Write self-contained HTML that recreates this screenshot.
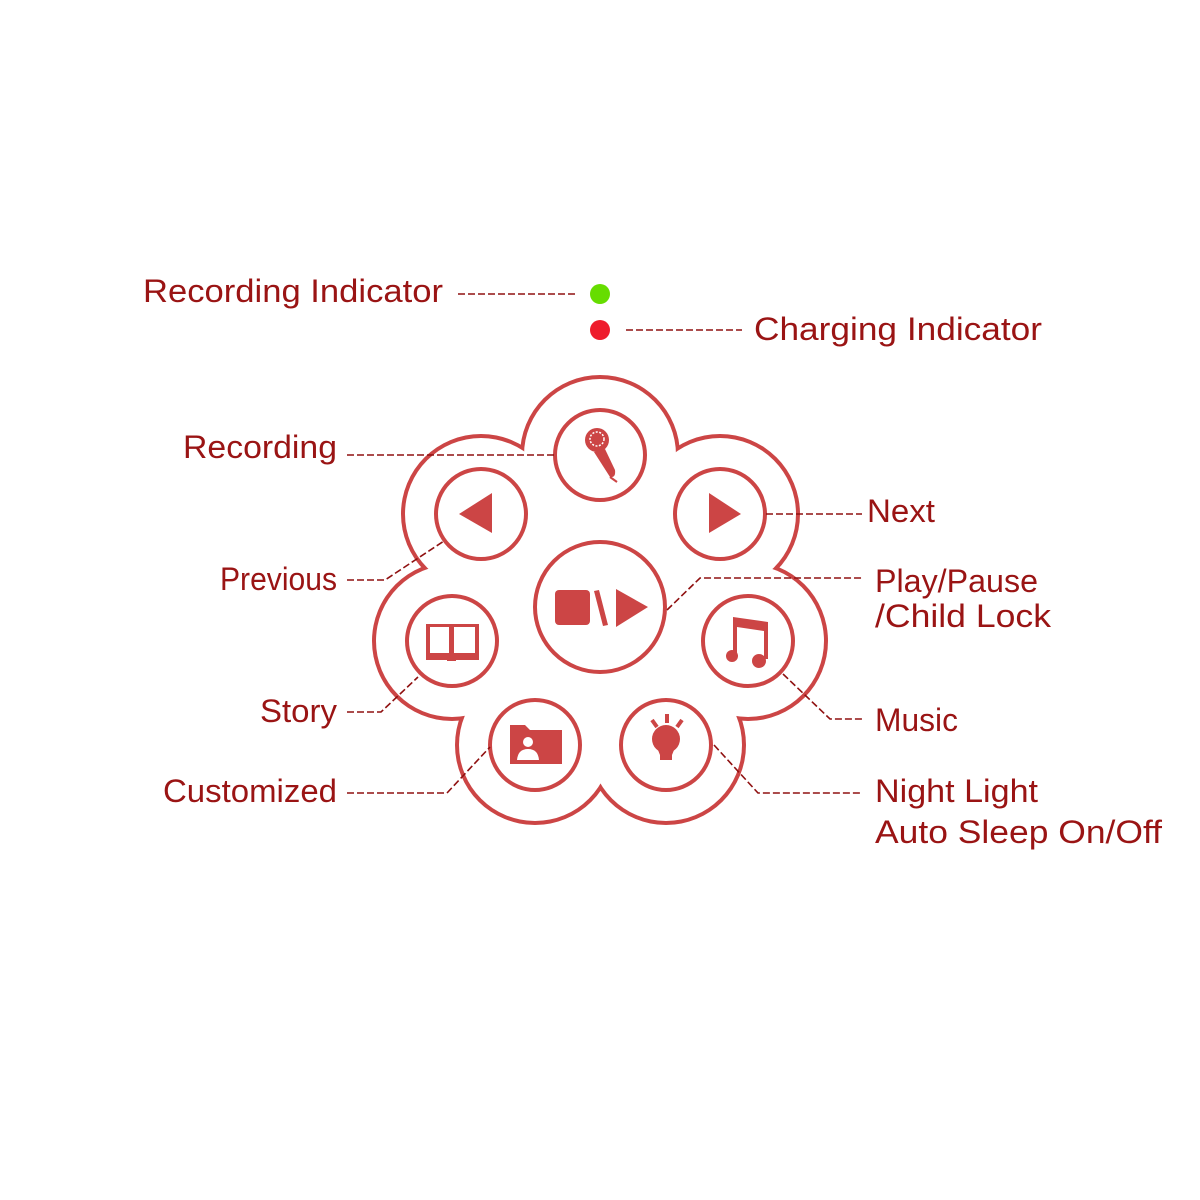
<!DOCTYPE html>
<html><head><style>html,body{margin:0;padding:0;background:#fff;}svg{display:block}</style></head>
<body>
<svg width="1200" height="1200" viewBox="0 0 1200 1200" xmlns="http://www.w3.org/2000/svg">
<rect width="1200" height="1200" fill="#fff"/>
<g fill="#cc4545">
<circle cx="600" cy="455" r="80"/>
<circle cx="481" cy="514" r="80"/>
<circle cx="720" cy="514" r="80"/>
<circle cx="452" cy="641" r="80"/>
<circle cx="748" cy="641" r="80"/>
<circle cx="535" cy="745" r="80"/>
<circle cx="666" cy="745" r="80"/>
</g>
<g fill="#fff">
<circle cx="600" cy="455" r="76"/>
<circle cx="481" cy="514" r="76"/>
<circle cx="720" cy="514" r="76"/>
<circle cx="452" cy="641" r="76"/>
<circle cx="748" cy="641" r="76"/>
<circle cx="535" cy="745" r="76"/>
<circle cx="666" cy="745" r="76"/>
<circle cx="600" cy="607" r="135"/>
</g>
<g fill="none" stroke="#cc4545" stroke-width="4">
<circle cx="600" cy="455" r="45"/>
<circle cx="481" cy="514" r="45"/>
<circle cx="720" cy="514" r="45"/>
<circle cx="600" cy="607" r="65"/>
<circle cx="452" cy="641" r="45"/>
<circle cx="748" cy="641" r="45"/>
<circle cx="535" cy="745" r="45"/>
<circle cx="666" cy="745" r="45"/>
</g>
<g fill="#cc4545">
<polygon points="459,514 492,493 492,533"/>
<polygon points="709,493 709,533 741,514"/>
<rect x="555" y="590" width="35" height="35" rx="4"/>
<polygon points="594,591 599,590 608,625 603,626"/>
<polygon points="616,589 648,607 616,627"/>
<circle cx="597" cy="440" r="12"/>
<path d="M594,452 L605,449 L615,470 Q616,478 610,477 Z"/>
<line x1="610" y1="477" x2="617" y2="482" stroke="#cc4545" stroke-width="2"/>
<!-- book -->
<rect x="426" y="624" width="53" height="36"/>
<rect x="447" y="657" width="9" height="4"/>
<!-- note -->
<path d="M733,617 l35,5 v37 h-4 v-28 l-27,-4 v31 h-4z"/>
<circle cx="732" cy="656" r="6"/>
<circle cx="759" cy="661" r="7"/>
<!-- folder -->
<path d="M510,725 h15 l5,5 h32 v34 h-52z"/>
<!-- bulb -->
<circle cx="666" cy="739" r="14"/>
<path d="M656,745 h20 l-4,10 v5 h-12 v-5z"/>
<line x1="652" y1="720" x2="657" y2="727" stroke="#cc4545" stroke-width="4"/>
<line x1="667" y1="714" x2="667" y2="723" stroke="#cc4545" stroke-width="4"/>
<line x1="682" y1="720" x2="677" y2="727" stroke="#cc4545" stroke-width="4"/>
</g>
<g fill="#fff">
<rect x="430" y="627" width="19" height="26"/>
<rect x="454" y="627" width="21" height="26"/>
<circle cx="597" cy="439" r="7" fill="none" stroke="#fff" stroke-width="1.5" stroke-dasharray="2 1.5"/>
<circle cx="528" cy="742" r="5"/>
<path d="M517,760 q1,-11 11,-11 q10,0 11,11z"/>
</g>
<line x1="451.5" y1="628" x2="451.5" y2="654" stroke="#cc4545" stroke-width="1.5"/>
<circle cx="600" cy="294" r="10" fill="#66dd00"/>
<circle cx="600" cy="330" r="10" fill="#ee1c2c"/>
<g fill="none" stroke="#8f1010" stroke-width="1.6" stroke-dasharray="7 3">
<line x1="458" y1="294" x2="575" y2="294"/>
<line x1="626" y1="330" x2="742" y2="330"/>
<line x1="347" y1="455" x2="555" y2="455"/>
<line x1="766" y1="514" x2="862" y2="514"/>
<polyline points="347,580 385,580 444,541"/>
<polyline points="667,610 700,578 862,578"/>
<polyline points="347,712 381,712 418,677"/>
<polyline points="783,674 830,719 862,719"/>
<polyline points="347,793 447,793 490,747"/>
<polyline points="714,745 758,793 860,793"/>
</g>
<g fill="#9a1414" font-family="Liberation Sans, sans-serif" font-size="32">
<text x="143" y="302" textLength="300" lengthAdjust="spacingAndGlyphs">Recording Indicator</text>
<text x="754" y="340" textLength="288" lengthAdjust="spacingAndGlyphs">Charging Indicator</text>
<text x="183" y="458" textLength="154" lengthAdjust="spacingAndGlyphs">Recording</text>
<text x="867" y="522" textLength="68" lengthAdjust="spacingAndGlyphs">Next</text>
<text x="220" y="590" textLength="117" lengthAdjust="spacingAndGlyphs">Previous</text>
<text x="875" y="592" textLength="163" lengthAdjust="spacingAndGlyphs">Play/Pause</text>
<text x="875" y="627" textLength="176" lengthAdjust="spacingAndGlyphs">/Child Lock</text>
<text x="260" y="722" textLength="77" lengthAdjust="spacingAndGlyphs">Story</text>
<text x="875" y="731" textLength="83" lengthAdjust="spacingAndGlyphs">Music</text>
<text x="163" y="802" textLength="174" lengthAdjust="spacingAndGlyphs">Customized</text>
<text x="875" y="802" textLength="163" lengthAdjust="spacingAndGlyphs">Night Light</text>
<text x="875" y="843" textLength="287" lengthAdjust="spacingAndGlyphs">Auto Sleep On/Off</text>
</g>
</svg>
</body></html>
